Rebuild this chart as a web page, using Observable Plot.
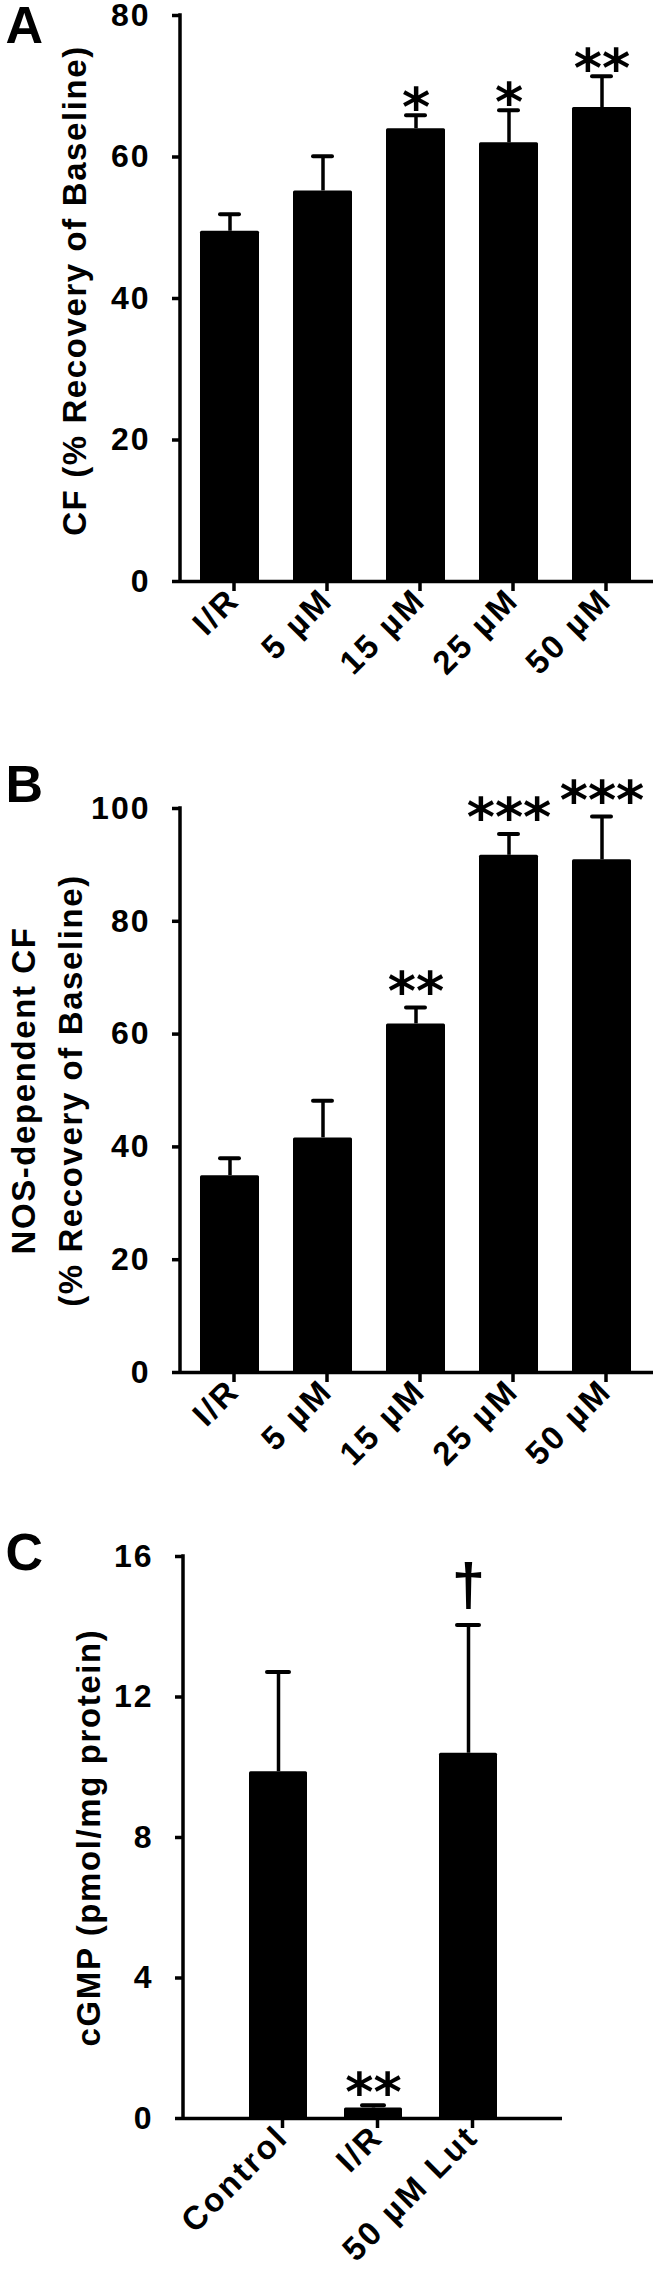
<!DOCTYPE html>
<html><head><meta charset="utf-8">
<script src="https://cdn.jsdelivr.net/npm/d3@7"></script>
<script src="https://cdn.jsdelivr.net/npm/@observablehq/plot@0.6"></script>
<style>
body{margin:0;background:#fff;}
#root{width:657px;}
#root svg{display:block;}
</style></head><body><div id="root"></div>
<script>
// Panel A
const catsAB = ["I/R", "5 µM", "15 µM", "25 µM", "50 µM"];
const cfMean = [49.5, 55.2, 64.0, 62.0, 67.0];
const cfErr = [2.4, 4.9, 1.9, 4.6, 4.4];
const cfSig = ["", "", "*", "*", "**"];
const cfTicks = [0, 20, 40, 60, 80];
// Panel B
const nosMean = [34.9, 41.6, 61.8, 91.7, 90.9];
const nosErr = [3.1, 6.6, 2.9, 3.8, 7.7];
const nosSig = ["", "", "**", "***", "***"];
const nosTicks = [0, 20, 40, 60, 80, 100];
// Panel C
const catsC = ["Control", "I/R", "50 µM Lut"];
const cgmpMean = [9.87, 0.3, 10.4];
const cgmpErr = [2.84, 0.08, 3.65];
const cgmpSig = ["", "**", "†"];
const cgmpTicks = [0, 4, 8, 12, 16];

const FONT = "'Liberation Sans', Arial, Helvetica, sans-serif";
const SW = 3.5;

function yLine(top) {
  return (index, scales, values, dims) => {
    const l = document.createElementNS("http://www.w3.org/2000/svg", "line");
    const x = dims.marginLeft;
    l.setAttribute("x1", x); l.setAttribute("x2", x);
    l.setAttribute("y1", scales.y(top)); l.setAttribute("y2", scales.y(0));
    l.setAttribute("stroke", "black"); l.setAttribute("stroke-width", SW);
    l.setAttribute("stroke-linecap", "square");
    return l;
  };
}

function panel(cfg) {
  const data = cfg.cats.map((c, i) => ({cat: c, v: cfg.mean[i], e: cfg.err[i], top: cfg.mean[i] + cfg.err[i], sig: cfg.sig[i]}));
  const starData = data.filter(d => d.sig.startsWith("*"));
  const dagData = data.filter(d => d.sig === "†");
  const ymax = cfg.ticks[cfg.ticks.length - 1];
  const svg = Plot.plot({
    width: 657,
    height: cfg.height,
    marginLeft: cfg.ml, marginRight: cfg.mr, marginTop: cfg.mt, marginBottom: cfg.mb,
    style: {fontFamily: FONT, fontWeight: "bold", color: "black", background: "white", overflow: "visible"},
    x: {domain: cfg.cats, paddingInner: cfg.pi, paddingOuter: cfg.po, align: cfg.align, axis: null},
    y: {domain: [0, ymax], axis: null},
    marks: [
      Plot.barY(data, {x: "cat", y: "v", fill: "black", rx: 1.5}),
      Plot.ruleX(data, {x: "cat", y1: "v", y2: "top", stroke: "black", strokeWidth: SW}),
      Plot.tickY(data, {x: "cat", y: "top", stroke: "black", strokeWidth: 4, strokeLinecap: "round", insetLeft: cfg.capInset, insetRight: cfg.capInset}),
      Plot.text(starData, {x: "cat", y: "top", text: "sig", dy: cfg.starDy, fontSize: 54, fontFamily: "'DejaVu Sans', sans-serif", fontWeight: "bold", lineAnchor: "middle", fill: "black", className: "sig"}),
      Plot.text(dagData, {x: "cat", y: "top", text: "sig", dy: -39, fontSize: 60, lineAnchor: "middle", fill: "black", className: "sig"}),
      Plot.ruleY([0], {stroke: "black", strokeWidth: SW}),
      yLine(ymax),
      Plot.axisY({ticks: cfg.ticks, tickSize: 8, strokeWidth: SW, tickPadding: 22, fontSize: 32, label: null, className: "yt"}),
      Plot.axisX({tickSize: 10, strokeWidth: SW, tickRotate: -45, tickPadding: 3, fontSize: 33, label: null, dx: 4, className: "xt"}),
      Plot.text([cfg.ylabel], {frameAnchor: "left", rotate: -90, dx: cfg.labelX - cfg.ml, dy: cfg.labelDy || 0, fontSize: 33, textAnchor: "middle", lineAnchor: "middle", lineHeight: 1.42, fill: "black", className: "yl"}),
      Plot.text([cfg.letter], {frameAnchor: "top-left", dx: 5 - cfg.ml, dy: cfg.letterDy, fontSize: 52, textAnchor: "start", lineAnchor: "top", fill: "black"})
    ]
  });
  const s = d3.select(svg);
  s.selectAll("text").style("letter-spacing", "2px");
  s.selectAll(".xt text").style("letter-spacing", "2.5px");
  s.selectAll(".yl text").style("letter-spacing", "1.6px");
  s.selectAll(".sig text").style("letter-spacing", "0px");
  return svg;
}

const root = document.getElementById("root");
root.appendChild(panel({
  cats: catsAB, mean: cfMean, err: cfErr, sig: cfSig, ticks: cfTicks,
  height: 700, ml: 180, mr: 4, mt: 15, mb: 119,
  pi: 0.369, po: 0.214, align: 0.475, capInset: 20, starDy: -7,
  ylabel: "CF (% Recovery of Baseline)", labelX: 70, labelDy: -8,
  letter: "A", letterDy: -9
}));
root.appendChild(panel({
  cats: catsAB, mean: nosMean, err: nosErr, sig: nosSig, ticks: nosTicks,
  height: 800, ml: 180, mr: 4, mt: 108, mb: 128,
  pi: 0.369, po: 0.214, align: 0.475, capInset: 20, starDy: -15,
  ylabel: "NOS-dependent CF\n(% Recovery of Baseline)", labelX: 43,
  letter: "B", letterDy: -43
}));
root.appendChild(panel({
  cats: catsC, mean: cgmpMean, err: cgmpErr, sig: cgmpSig, ticks: cgmpTicks,
  height: 775, ml: 183, mr: 95, mt: 56, mb: 157,
  pi: 0.39, po: 0.688, align: 0.5, capInset: 18, starDy: -11,
  ylabel: "cGMP (pmol/mg protein)", labelX: 84,
  letter: "C", letterDy: -23
}));
</script></body></html>
